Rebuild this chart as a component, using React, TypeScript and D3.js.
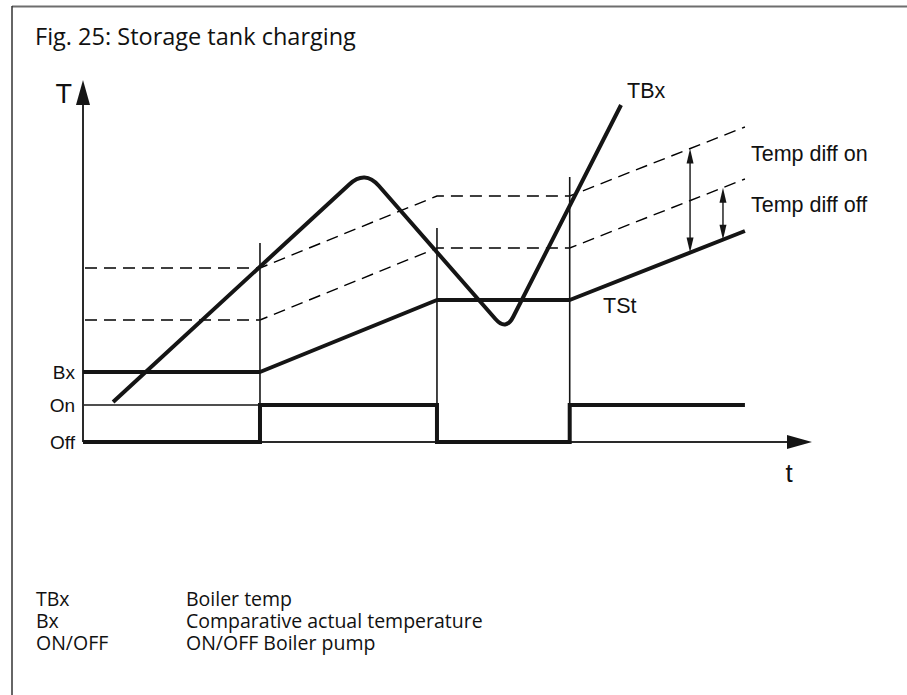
import React from "react";
import * as d3 from "d3";

// ---- data (time units, temperature units) ----
const levels = { off: 0, on: 37, bx: 70 };
const levelLabels = ["Bx", "On", "Off"];
const levelValues = [70, 37, 0];

const switchTimes = [1, 2, 2.75];
const switchTops = [199, 214, 265];

const tStTimes = [0, 1, 2, 2.75, 3.74];
const tStValues = [70, 70, 142, 142, 211];
const diffOn = 104;
const diffOff = 52;

const tBxTimes = [0.17, 1.593, 2.39, 3.04];
const tBxValues = [40, 272, 111, 337];

const pumpTimes = [0, 1, 2, 2.75, 3.74];
const pumpStates = [0, 1, 0, 1, 1];

const diffOnArrowTime = 3.43;
const diffOffArrowTime = 3.616;

const legendKeys = ["TBx", "Bx", "ON/OFF"];
const legendTexts = ["Boiler temp", "Comparative actual temperature", "ON/OFF Boiler pump"];

const W = 907;
const H = 695;
const INK = "#151515";

const x = d3.scaleLinear().domain([0, 4.119]).range([83, 812]);
const y = d3.scaleLinear().domain([0, 362]).range([442, 80]);

function roundedPath(pts: [number, number][], radii: number[]) {
  const p = d3.path();
  p.moveTo(pts[0][0], pts[0][1]);
  for (let i = 1; i < pts.length - 1; i++) {
    const r = radii[i - 1];
    const [px, py] = pts[i - 1];
    const [cx, cy] = pts[i];
    const [nx, ny] = pts[i + 1];
    const d1 = Math.hypot(cx - px, cy - py);
    const d2 = Math.hypot(nx - cx, ny - cy);
    const ax = cx - ((cx - px) / d1) * r;
    const ay = cy - ((cy - py) / d1) * r;
    const bx = cx + ((nx - cx) / d2) * r;
    const by = cy + ((ny - cy) / d2) * r;
    p.lineTo(ax, ay);
    p.quadraticCurveTo(cx, cy, bx, by);
  }
  const last = pts[pts.length - 1];
  p.lineTo(last[0], last[1]);
  return p.toString();
}

export default function App() {
  const line = d3
    .line<[number, number]>()
    .x((d) => x(d[0]))
    .y((d) => y(d[1]));
  const stepLine = d3
    .line<[number, number]>()
    .x((d) => x(d[0]))
    .y((d) => y(d[1] ? levels.on : levels.off))
    .curve(d3.curveStepAfter);

  const tSt = tStTimes.map((t, i) => [t, tStValues[i]] as [number, number]);
  const upper = tStTimes.map((t, i) => [t, tStValues[i] + diffOn] as [number, number]);
  const lower = tStTimes.map((t, i) => [t, tStValues[i] + diffOff] as [number, number]);
  const tBxPx = tBxTimes.map((t, i) => [x(t), y(tBxValues[i])] as [number, number]);
  const pump = pumpTimes.map((t, i) => [t, pumpStates[i]] as [number, number]);

  const tStAt = (t: number) => {
    for (let i = 0; i < tStTimes.length - 1; i++) {
      if (t >= tStTimes[i] && t <= tStTimes[i + 1]) {
        const f = (t - tStTimes[i]) / (tStTimes[i + 1] - tStTimes[i]);
        return tStValues[i] + f * (tStValues[i + 1] - tStValues[i]);
      }
    }
    return tStValues[tStValues.length - 1];
  };

  const dArrow = (t: number, offset: number) => {
    const xx = x(t);
    const y0 = y(tStAt(t));
    const y1 = y(tStAt(t) + offset);
    return (
      <g key={"a" + t}>
        <line x1={xx} x2={xx} y1={y1 + 8} y2={y0 - 8} stroke={INK} strokeWidth={1.4} />
        <path d={`M${xx},${y1} L${xx - 3.5},${y1 + 15} L${xx + 3.5},${y1 + 15} Z`} fill={INK} />
        <path d={`M${xx},${y0} L${xx - 3.5},${y0 - 15} L${xx + 3.5},${y0 - 15} Z`} fill={INK} />
      </g>
    );
  };

  const labelFont = "'Liberation Sans', Arial, Helvetica, sans-serif";
  const textFont = "'Open Sans', 'Noto Sans', sans-serif";

  return (
    <svg
      width={W}
      height={H}
      style={{ position: "absolute", left: 0, top: 0, background: "#fff" }}
    >
      {/* frame */}
      <line x1={12} x2={W} y1={6.5} y2={6.5} stroke="#6e6e6e" strokeWidth={2} />
      <line x1={12} x2={12} y1={6} y2={H} stroke="#333" strokeWidth={1.5} />

      <text x={35} y={45} fontFamily={textFont} fontSize={23.5} fill="#111">
        Fig. 25: Storage tank charging
      </text>

      {/* dashed thresholds */}
      <path d={line(upper) || ""} fill="none" stroke="#000" strokeWidth={1.4} strokeDasharray="12,7" strokeDashoffset={-2} />
      <path d={line(lower) || ""} fill="none" stroke="#000" strokeWidth={1.4} strokeDasharray="12,7" strokeDashoffset={-2} />

      {/* switch verticals */}
      {switchTimes.map((t, i) => (
        <line key={t} x1={x(t)} x2={x(t)} y1={y(0)} y2={y(switchTops[i])} stroke={INK} strokeWidth={1.6} />
      ))}

      {/* On reference line (thin) */}
      <line x1={x(0)} x2={x(1)} y1={y(levels.on)} y2={y(levels.on)} stroke={INK} strokeWidth={1.6} />

      {/* axes */}
      <line x1={x(0)} x2={x(0)} y1={y(0)} y2={y(0) - 340} stroke="#2a2a2a" strokeWidth={2} />
      <path d={`M${x(0)},80 L${x(0) - 7},105 L${x(0) + 7},105 Z`} fill={INK} />
      <line x1={x(0)} x2={787} y1={y(0)} y2={y(0)} stroke="#2a2a2a" strokeWidth={2} />
      <path d={`M812,${y(0)} L787,${y(0) - 7} L787,${y(0) + 7} Z`} fill={INK} />

      {/* pump state */}
      <path d={stepLine(pump) || ""} fill="none" stroke={INK} strokeWidth={4} strokeLinejoin="miter" />

      {/* TSt */}
      <path d={line(tSt) || ""} fill="none" stroke={INK} strokeWidth={4} strokeLinejoin="round" />

      {/* TBx */}
      <path d={roundedPath(tBxPx, [21, 16])} fill="none" stroke={INK} strokeWidth={4} strokeLinecap="butt" />

      {/* diff arrows */}
      {dArrow(diffOnArrowTime, diffOn)}
      {dArrow(diffOffArrowTime, diffOff)}

      {/* labels */}
      <g fontFamily={labelFont} fill="#111">
        <text x={72} y={103} fontSize={27} textAnchor="end">T</text>
        <text x={789} y={482} fontSize={26} textAnchor="middle">t</text>
        {levelLabels.map((l, i) => (
          <text key={l} x={75} y={y(levelValues[i]) + 7} fontSize={19} textAnchor="end">
            {l}
          </text>
        ))}
        <text x={627} y={98} fontSize={21.5}>TBx</text>
        <text x={603} y={313} fontSize={21.5}>TSt</text>
        <text x={751} y={161} fontSize={21.5}>Temp diff on</text>
        <text x={751} y={212} fontSize={21.5}>Temp diff off</text>
      </g>

      {/* legend */}
      <g fontFamily={textFont} fontSize={19.5} fill="#111">
        {legendKeys.map((k, i) => (
          <g key={k}>
            <text x={36} y={606 + i * 22}>{k}</text>
            <text x={186} y={606 + i * 22}>{legendTexts[i]}</text>
          </g>
        ))}
      </g>
    </svg>
  );
}
